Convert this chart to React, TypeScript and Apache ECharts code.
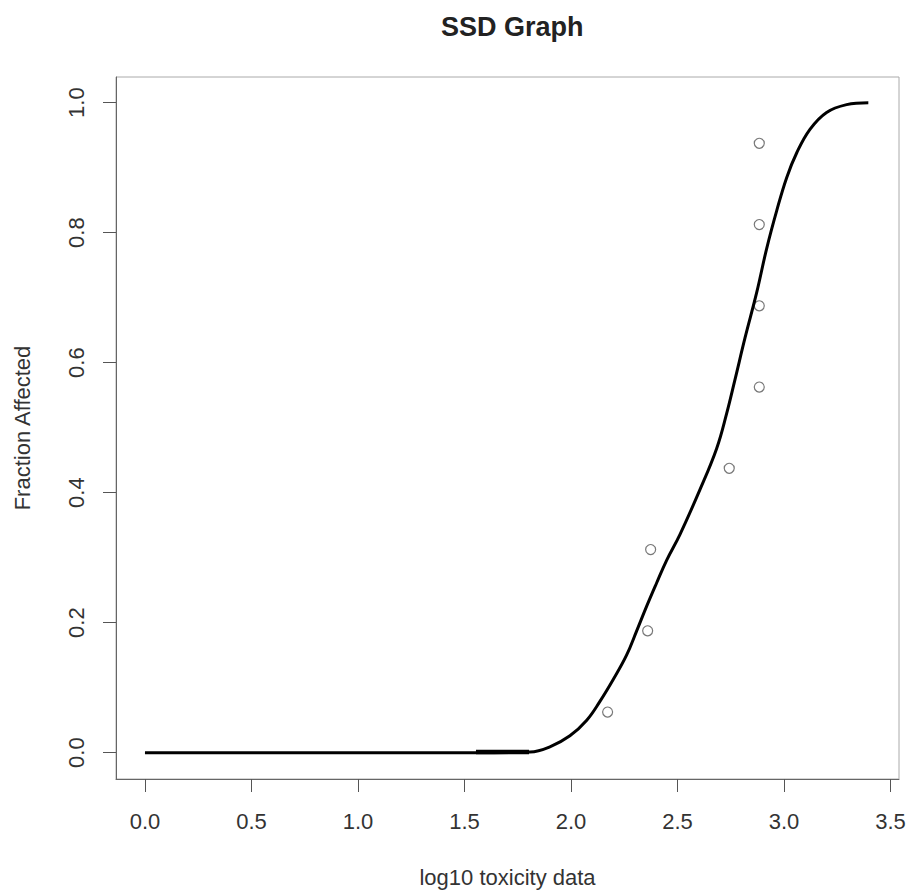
import React, { useEffect, useRef } from "react";
import * as echarts from "echarts";

// Fitted SSD curve
const curveX = [0, 1.554, 1.808, 1.901, 1.995, 2.074, 2.136, 2.199, 2.261, 2.308, 2.355, 2.402, 2.449, 2.512, 2.606, 2.684, 2.731, 2.770, 2.817, 2.872, 2.919, 2.966, 3.013, 3.060, 3.122, 3.200, 3.294, 3.396];
const curveY = [0, 0, 0.001, 0.009, 0.026, 0.050, 0.079, 0.113, 0.150, 0.187, 0.225, 0.261, 0.296, 0.336, 0.405, 0.468, 0.522, 0.574, 0.638, 0.708, 0.776, 0.834, 0.885, 0.923, 0.959, 0.985, 0.997, 1.0];

// Thicker overlapping stretch of the curve
const overlapX = [1.554, 1.803];
const overlapY = [0.001, 0.001];

// Observed toxicity data (log10) and plotting positions
const pointX = [2.172, 2.360, 2.374, 2.743, 2.884, 2.884, 2.884, 2.884];
const pointY = [0.0625, 0.1875, 0.3125, 0.4375, 0.5625, 0.6875, 0.8125, 0.9375];

const xTicks = [0, 0.5, 1, 1.5, 2, 2.5, 3, 3.5];
const yTicks = [0, 0.2, 0.4, 0.6, 0.8, 1.0];

const FONT = "'Liberation Sans', Arial, Helvetica, sans-serif";

export default function App() {
  const ref = useRef<HTMLDivElement>(null);
  useEffect(() => {
    if (!ref.current) return;
    const chart = echarts.init(ref.current, null, { renderer: "svg" });
    chart.setOption({
      animation: false,
      backgroundColor: "#ffffff",
      textStyle: { fontFamily: FONT },
      title: {
        text: "SSD Graph",
        left: 436,
        top: 8,
        textStyle: { fontSize: 27, fontWeight: "bold", color: "#222", fontFamily: FONT },
      },
      grid: {
        left: 116,
        top: 77,
        width: 783,
        height: 702,
        show: true,
        borderColor: "#aaaaaa",
        borderWidth: 1,
        backgroundColor: "transparent",
      },
      xAxis: {
        type: "value",
        min: -0.136,
        max: 3.54,
        name: "log10 toxicity data",
        nameLocation: "middle",
        nameGap: 87,
        nameTextStyle: { fontSize: 22, color: "#333", fontFamily: FONT },
        axisLine: { show: true, onZero: false, lineStyle: { color: "#666", width: 1 } },
        axisTick: { show: true, length: 13, customValues: xTicks, lineStyle: { color: "#555", width: 1 } },
        axisLabel: {
          customValues: xTicks,
          margin: 31,
          fontSize: 22,
          color: "#333",
          fontFamily: FONT,
          formatter: (v: number) => v.toFixed(1),
        },
        splitLine: { show: false },
      },
      yAxis: {
        type: "value",
        min: -0.0405,
        max: 1.0395,
        name: "Fraction Affected",
        nameLocation: "middle",
        nameGap: 83,
        nameRotate: 90,
        nameTextStyle: { fontSize: 22, color: "#333", fontFamily: FONT },
        axisLine: { show: true, onZero: false, lineStyle: { color: "#666", width: 1 } },
        axisTick: { show: true, length: 13, customValues: yTicks, lineStyle: { color: "#555", width: 1 } },
        axisLabel: {
          customValues: yTicks,
          rotate: 90,
          margin: 29,
          fontSize: 22,
          color: "#333",
          fontFamily: FONT,
          formatter: (v: number) => v.toFixed(1),
        },
        splitLine: { show: false },
      },
      series: [
        {
          type: "line",
          name: "fit",
          data: curveX.map((x, i) => [x, curveY[i]]),
          smooth: 0.4,
          showSymbol: false,
          symbol: "none",
          lineStyle: { color: "#000", width: 3 },
          silent: true,
        },
        {
          type: "line",
          name: "overlap",
          data: overlapX.map((x, i) => [x, overlapY[i]]),
          showSymbol: false,
          symbol: "none",
          lineStyle: { color: "#000", width: 4.5 },
          silent: true,
        },
        {
          type: "scatter",
          name: "data",
          data: pointX.map((x, i) => [x, pointY[i]]),
          symbol: "circle",
          symbolSize: 10,
          itemStyle: { color: "transparent", borderColor: "#555", borderWidth: 1.2 },
          silent: true,
        },
      ],
    });
    return () => chart.dispose();
  }, []);
  return (
    <div
      ref={ref}
      style={{ position: "fixed", left: 0, top: 0, width: 910, height: 894, background: "#fff" }}
    />
  );
}
